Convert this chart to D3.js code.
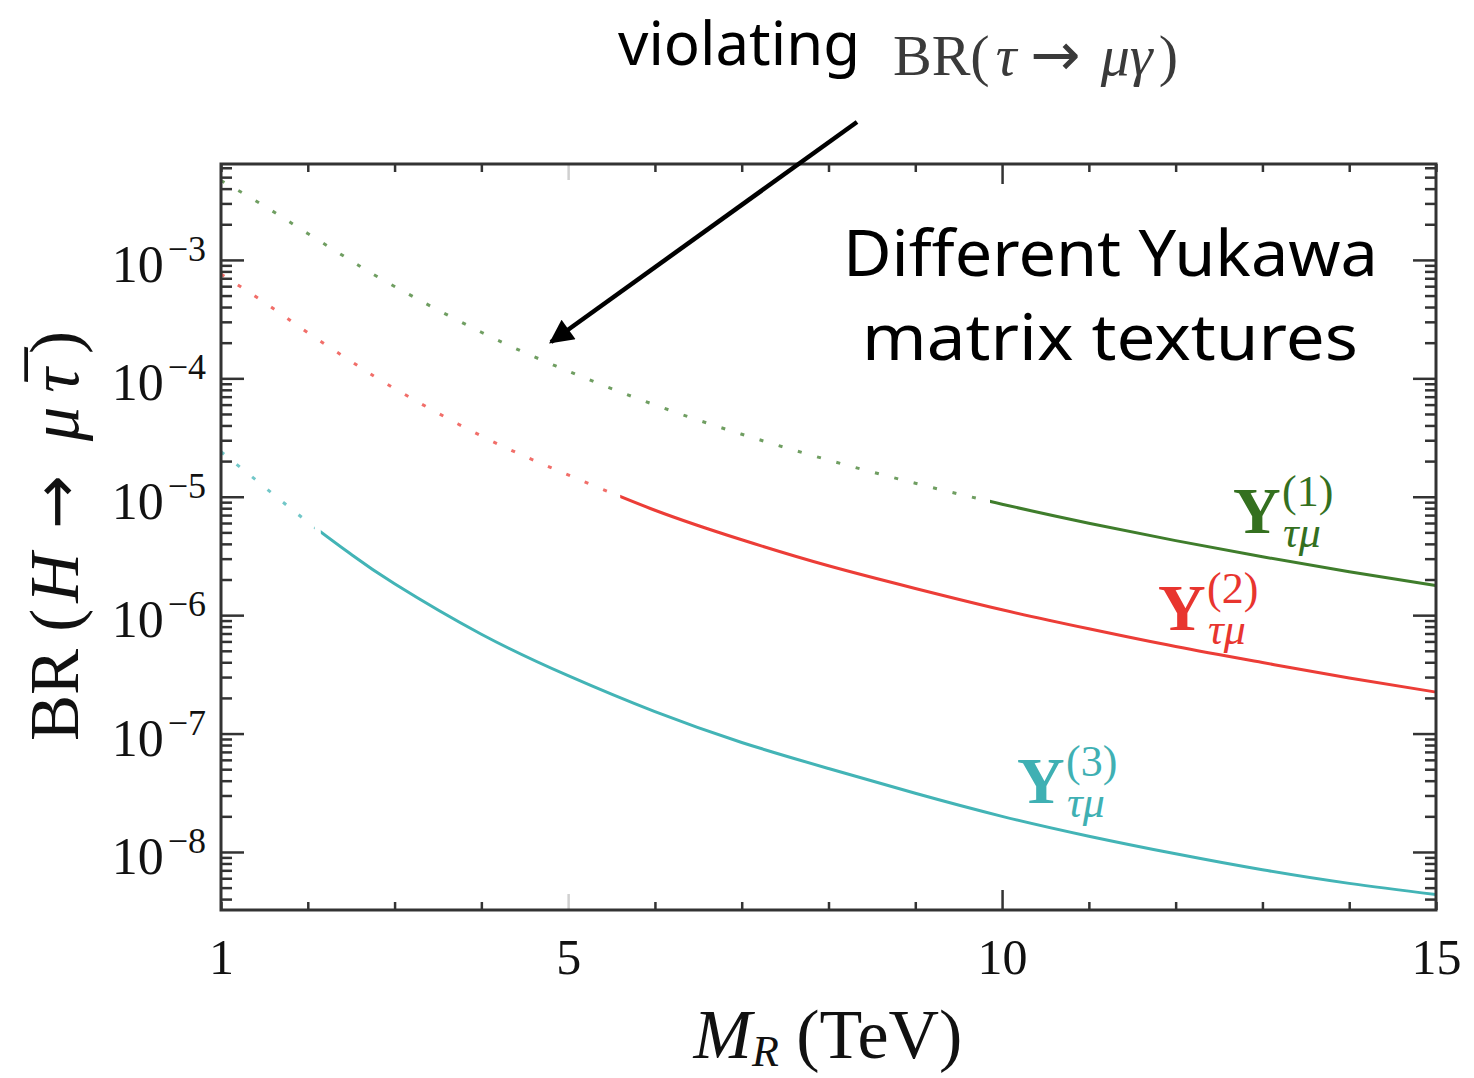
<!DOCTYPE html>
<html>
<head>
<meta charset="utf-8">
<script src="https://cdn.jsdelivr.net/npm/d3@7"></script>
<style>
  body { margin: 0; background: #fff; }
  .serif { font-family: "Liberation Serif", "DejaVu Serif", serif; }
  .hand { font-family: "Comic Sans MS", "Noto Sans", "DejaVu Sans", sans-serif; }
  .arrow { font-family: "DejaVu Sans", sans-serif; font-style: normal; }
</style>
</head>
<body>
<div id="root"></div>
<script>
const width = 1474;
const height = 1078;

// M_R in TeV
const mr = [1, 1.5, 2, 2.5, 3, 4, 5, 6, 7, 8, 9, 10, 11, 12, 13, 14, 15];

// BR(H -> mu tau)
const brY1 = [4.68e-3, 2.85e-3, 1.67e-3, 9.84e-4, 5.97e-4, 2.45e-4, 1.15e-4, 5.96e-5, 3.37e-5,
  2.04e-5, 1.3e-5, 8.65e-6, 5.98e-6, 4.26e-6, 3.11e-6, 2.33e-6, 1.78e-6];
const brY2 = [7.59e-4, 4.37e-4, 2.43e-4, 1.39e-4, 8.2e-5, 3.26e-5, 1.53e-5, 7.69e-6, 4.33e-6,
  2.61e-6, 1.68e-6, 1.11e-6, 7.67e-7, 5.43e-7, 3.98e-7, 2.95e-7, 2.24e-7];
const brY3 = [2.4e-5, 1.21e-5, 6.12e-6, 3.26e-6, 1.84e-6, 6.9e-7, 3.08e-7, 1.53e-7, 8.41e-8,
  5.07e-8, 3.13e-8, 2.0e-8, 1.36e-8, 9.66e-9, 7.08e-9, 5.43e-9, 4.37e-9];

// where each curve stops violating BR(tau -> mu gamma) (dotted below this M_R)
const cutY1 = 9.86;
const cutY2 = 5.6;
const cutY3 = 2.15;

const xTicks = d3.range(1, 16);
const xLabels = [1, 5, 10, 15];
const yDecades = [1e-8, 1e-7, 1e-6, 1e-5, 1e-4, 1e-3];
const yExpLabels = ["\u22128", "\u22127", "\u22126", "\u22125", "\u22124", "\u22123"];

const plotLeft = 221, plotRight = 1436, plotTop = 164, plotBottom = 910;

let x = d3.scaleLinear().domain([1, 15]).range([plotLeft, plotRight]);
let y = d3.scaleLog().domain([Math.pow(10, -8.49), Math.pow(10, -2.19)]).range([plotBottom, plotTop]);

let svg = d3.select("#root").append("svg")
  .attr("width", width)
  .attr("height", height)
  .style("background", "#fff");

let defs = svg.append("defs");

let series = [
  { key: "1", values: brY1, cut: cutY1, color: "#3f7d2c", text: "#34701f" },
  { key: "2", values: brY2, cut: cutY2, color: "#ec3d37", text: "#e8352f" },
  { key: "3", values: brY3, cut: cutY3, color: "#43b4b6", text: "#3fb0b3" }
];

let line = d3.line()
  .x((d) => x(d[0]))
  .y((d) => y(d[1]))
  .curve(d3.curveNatural);

series.forEach(function (s) {
  defs.append("clipPath").attr("id", "dot" + s.key)
    .append("rect")
    .attr("x", plotLeft).attr("y", plotTop)
    .attr("width", x(s.cut) - plotLeft - 6).attr("height", plotBottom - plotTop);
  defs.append("clipPath").attr("id", "solid" + s.key)
    .append("rect")
    .attr("x", x(s.cut)).attr("y", plotTop)
    .attr("width", plotRight - x(s.cut)).attr("height", plotBottom - plotTop);

  let pts = mr.map((m, i) => [m, s.values[i]]);

  svg.append("path")
    .attr("d", line(pts))
    .attr("clip-path", "url(#dot" + s.key + ")")
    .attr("fill", "none")
    .attr("stroke", s.color)
    .attr("stroke-opacity", 0.75)
    .attr("stroke-width", 3)
    .attr("stroke-dasharray", "4 16");

  svg.append("path")
    .attr("d", line(pts))
    .attr("clip-path", "url(#solid" + s.key + ")")
    .attr("fill", "none")
    .attr("stroke", s.color)
    .attr("stroke-width", 3);
});

// ticks, all pointing inward
let axisColor = "#333";
let bottomAxis = svg.append("g")
  .attr("transform", "translate(0," + plotBottom + ")")
  .call(d3.axisBottom(x).tickValues(xTicks).tickSize(-8).tickPadding(28)
    .tickFormat((d) => (xLabels.includes(d) ? d : "")));
bottomAxis.select(".domain").remove();
bottomAxis.selectAll("line")
  .attr("stroke", (d) => (d === 5 ? "#d0d0d0" : axisColor))
  .attr("stroke-width", 2.5)
  .attr("y2", (d) => (d === 10 ? -20 : d === 5 ? -16 : -8));
bottomAxis.selectAll("text")
  .attr("class", "serif")
  .attr("fill", "#111")
  .style("font-size", "50px");

let topAxis = svg.append("g")
  .attr("transform", "translate(0," + plotTop + ")")
  .call(d3.axisTop(x).tickValues(xTicks).tickSize(-8).tickFormat(""));
topAxis.select(".domain").remove();
topAxis.selectAll("line")
  .attr("stroke", (d) => (d === 5 ? "#d0d0d0" : axisColor))
  .attr("stroke-width", 2.5)
  .attr("y2", (d) => (d === 10 ? 20 : d === 5 ? 16 : 8));

let yTicks = y.ticks();
let isDecade = (d) => Math.abs(Math.log10(d) - Math.round(Math.log10(d))) < 1e-6;

let leftAxis = svg.append("g")
  .attr("transform", "translate(" + plotLeft + ",0)")
  .call(d3.axisLeft(y).tickValues(yTicks).tickSize(-10).tickFormat(""));
leftAxis.select(".domain").remove();
leftAxis.selectAll("line")
  .attr("stroke", axisColor)
  .attr("stroke-width", 2.5)
  .attr("x2", (d) => (isDecade(d) ? 23 : 11));

let rightAxis = svg.append("g")
  .attr("transform", "translate(" + plotRight + ",0)")
  .call(d3.axisRight(y).tickValues(yTicks).tickSize(-10).tickFormat(""));
rightAxis.select(".domain").remove();
rightAxis.selectAll("line")
  .attr("stroke", axisColor)
  .attr("stroke-width", 2.5)
  .attr("x2", (d) => (isDecade(d) ? -23 : -11));

// frame
svg.append("rect")
  .attr("x", plotLeft).attr("y", plotTop)
  .attr("width", plotRight - plotLeft).attr("height", plotBottom - plotTop)
  .attr("fill", "none")
  .attr("stroke", axisColor)
  .attr("stroke-width", 3);

// y tick labels 10^n
yDecades.forEach(function (d, i) {
  let t = svg.append("text")
    .attr("class", "serif")
    .attr("x", 206)
    .attr("y", y(d) + 22)
    .attr("text-anchor", "end")
    .attr("fill", "#111")
    .style("font-size", "52px");
  t.append("tspan").text("10");
  t.append("tspan").attr("dx", 4).attr("dy", -21).style("font-size", "36px").text(yExpLabels[i]);
});

// axis titles
let xTitle = svg.append("text")
  .attr("class", "serif")
  .attr("x", 828)
  .attr("y", 1058)
  .attr("text-anchor", "middle")
  .attr("fill", "#111")
  .style("font-size", "70px");
xTitle.append("tspan").style("font-style", "italic").text("M");
xTitle.append("tspan").attr("dy", 8).style("font-style", "italic").style("font-size", "44px").text("R");
xTitle.append("tspan").attr("dy", -8).text(" (TeV)");

let yTitle = svg.append("text")
  .attr("class", "serif")
  .attr("transform", "translate(78,536) rotate(-90)")
  .attr("text-anchor", "middle")
  .attr("fill", "#111")
  .style("font-size", "69px");
yTitle.append("tspan").text("BR (");
yTitle.append("tspan").attr("dx", 6).style("font-style", "italic").text("H");
yTitle.append("tspan").attr("dx", 24).attr("class", "arrow").style("font-size", "64px").text("\u2192");
yTitle.append("tspan").attr("dx", 34).style("font-style", "italic").text("\u03bc");
yTitle.append("tspan").attr("dx", 14).style("font-style", "italic").text("\u03c4\u0305");
yTitle.append("tspan").attr("dx", 14).text(")");

// curve labels Y^(n)_{tau mu}
let labelPos = [
  { key: "1", x: 1233, y: 533 },
  { key: "2", x: 1158, y: 630 },
  { key: "3", x: 1017, y: 803 }
];
labelPos.forEach(function (p, i) {
  let c = series[i].text;
  let t = svg.append("text").attr("class", "serif")
    .attr("x", p.x).attr("y", p.y)
    .attr("fill", c);
  t.append("tspan").style("font-size", "66px").style("font-weight", "bold").text("Y");
  t.append("tspan").attr("x", p.x + 49).attr("y", p.y - 27)
    .style("font-size", "44px").text("(" + p.key + ")");
  t.append("tspan").attr("x", p.x + 50).attr("y", p.y + 14)
    .style("font-size", "44px").style("font-style", "italic").text("\u03c4\u03bc");
});

// annotations
svg.append("text")
  .attr("class", "hand")
  .attr("x", 618).attr("y", 65)
  .attr("textLength", 242).attr("lengthAdjust", "spacingAndGlyphs")
  .attr("fill", "#000").style("font-size", "60px")
  .text("violating");

let brText = svg.append("text")
  .attr("class", "serif")
  .attr("x", 893).attr("y", 75)
  .attr("fill", "#3a3a3a").style("font-size", "58px");
brText.append("tspan").text("BR(");
brText.append("tspan").attr("dx", 6).style("font-style", "italic").text("\u03c4");
brText.append("tspan").attr("dx", 14).attr("class", "arrow").style("font-size", "60px").text("\u2192");
brText.append("tspan").attr("dx", 20).style("font-style", "italic").text("\u03bc\u03b3");
brText.append("tspan").attr("dx", 6).text(")");

svg.append("text")
  .attr("class", "hand")
  .attr("x", 843).attr("y", 276)
  .attr("textLength", 535).attr("lengthAdjust", "spacingAndGlyphs")
  .attr("fill", "#000").style("font-size", "64px")
  .text("Different Yukawa");
svg.append("text")
  .attr("class", "hand")
  .attr("x", 862).attr("y", 360)
  .attr("textLength", 496).attr("lengthAdjust", "spacingAndGlyphs")
  .attr("fill", "#000").style("font-size", "64px")
  .text("matrix  textures");

// arrow pointing at the dotted (excluded) part
defs.append("marker")
  .attr("id", "head")
  .attr("viewBox", "0 0 10 10")
  .attr("refX", 9).attr("refY", 5)
  .attr("markerUnits", "userSpaceOnUse")
  .attr("markerWidth", 30).attr("markerHeight", 24)
  .attr("orient", "auto")
  .append("path")
  .attr("d", "M0,0 L10,5 L0,10 Z")
  .attr("fill", "#000");

svg.append("line")
  .attr("x1", 857).attr("y1", 122)
  .attr("x2", 551).attr("y2", 342)
  .attr("stroke", "#000")
  .attr("stroke-width", 4.5)
  .attr("marker-end", "url(#head)");
</script>
</body>
</html>
